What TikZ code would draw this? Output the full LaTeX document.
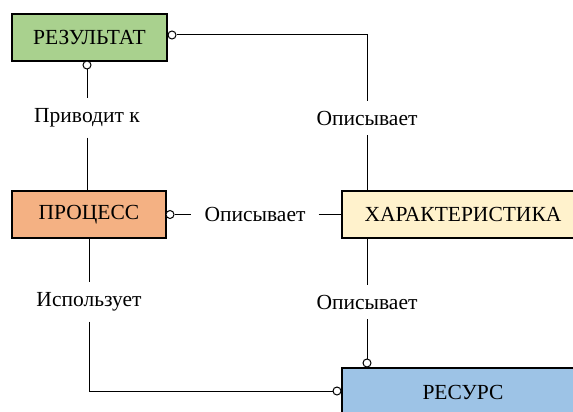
\documentclass[tikz,border=0pt]{standalone}
\usepackage{fontspec}
\setmainfont{Liberation Serif}
\newfontfamily\ruserif{Liberation Serif}
\definecolor{resgreen}{HTML}{A9D18E}
\definecolor{procorange}{HTML}{F4B183}
\definecolor{charyellow}{HTML}{FFF2CC}
\definecolor{resblue}{HTML}{9DC3E6}
\begin{document}
\begin{tikzpicture}[x=1pt,y=-1pt,
 box/.style={draw=black, line width=2.2pt, minimum height=47pt, inner sep=0pt, font=\ruserif\fontsize{21.5}{24}\selectfont},
 lbl/.style={inner xsep=13pt, inner ysep=10pt, font=\ruserif\fontsize{21.5}{24}\selectfont},
 conn/.style={line width=1pt, draw=black},
 ring/.style={circle, draw=black, line width=1pt, fill=white, minimum size=8pt, inner sep=0pt}]
\useasboundingbox (0,0) rectangle (573,412);
\clip (0,0) rectangle (573,412);
\node[box, fill=resgreen, minimum width=155pt] (res) at (89.5,37.5) {РЕЗУЛЬТАТ};
\node[box, fill=procorange, minimum width=154pt] (proc) at (89,214.5) {ПРОЦЕСС};
\node[box, fill=charyellow, minimum width=242pt] (char) at (463,214.5) {ХАРАКТЕРИСТИКА};
\node[box, fill=resblue, minimum width=242pt, minimum height=48pt] (resurs) at (463,392) {РЕСУРС};
\node[lbl] (l1) at (87,118) {Приводит к};
\node[lbl] (l2) at (367,118) {Описывает};
\node[lbl] (l3) at (255,214.5) {Описывает};
\node[lbl] (l4) at (89,302) {Использует};
\node[lbl] (l5) at (367,302) {Описывает};
\node[ring] (c1) at (172,35) {};
\node[ring] (c2) at (87,65) {};
\node[ring] (c3) at (170,214.5) {};
\node[ring] (c4) at (367,363) {};
\node[ring] (c5) at (337,391) {};
\draw[conn] (c1) -| (l2);
\draw[conn] (l2.south) -- (l2.south |- char.north);
\draw[conn] (c2) -- (l1);
\draw[conn] (l1.south) -- (l1.south |- proc.north);
\draw[conn] (c3) -- (l3);
\draw[conn] (l3) -- (char);
\draw[conn] (char.south -| l5) -- (l5);
\draw[conn] (l5) -- (c4);
\draw[conn] (proc.south -| l4) -- (l4);
\draw[conn] (l4) |- (c5);
\end{tikzpicture}
\end{document}
